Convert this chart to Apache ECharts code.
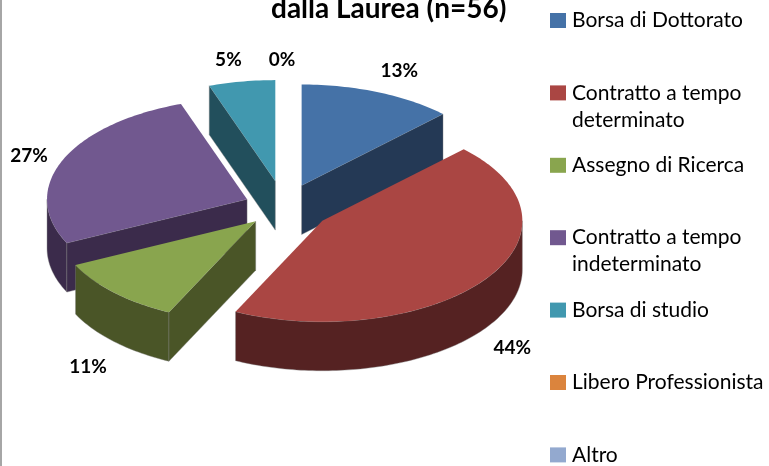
<!DOCTYPE html>
<html>
<head>
<meta charset="utf-8">
<style>html,body{margin:0;background:#fff}#chart{width:769px;height:466px}</style>
<script src="https://cdn.jsdelivr.net/npm/echarts@6/dist/echarts.min.js"></script>
</head>
<body>
<div id="chart"></div>
<script>
var categories = ['Borsa di Dottorato', 'Contratto a tempo determinato', 'Assegno di Ricerca',
    'Contratto a tempo indeterminato', 'Borsa di studio', 'Libero Professionista', 'Altro'];
var counts = [7, 25, 6, 15, 3, 0, 0];
var percentLabels = ['13%', '44%', '11%', '27%', '5%', '0%', ''];
var topColors = ['#4572A7', '#AA4643', '#89A54E', '#71588F', '#4198AF', '#DB843D', '#93A9CF'];
var wallColors = ['#243955', '#552222', '#4A5527', '#3B2B4B', '#224F5C', '#6E421E', '#4A5568'];

// pie geometry, angles run clockwise from 12 o'clock
var cx = 284, cy = 207, rx = 200, ry = 101, depth = 49;
var explode = [0.23, 0.235, 0.2, 0.2, 0.26, 0.2, 0.2];
var labelNudge = [[2, 2], [-14, 5], [9, 7], [13, 5], [-5, 3], [-2, -1], [0, 0]];
var drawOrder = [0, 4, 5, 6, 3, 2, 1];

var total = counts.reduce(function (a, b) { return a + b; }, 0);

function angleOf(i) {
    var sum = 0;
    for (var k = 0; k < i; k++) sum += counts[k];
    return sum / total * Math.PI * 2;
}
function arcPoints(ax, ay, from, to, dy) {
    var pts = [], n = Math.max(2, Math.ceil((to - from) / 0.02));
    for (var k = 0; k <= n; k++) {
        var t = from + (to - from) * k / n;
        pts.push([ax + Math.sin(t) * rx, ay - Math.cos(t) * ry + dy]);
    }
    return pts;
}
function wallStyle(i) {
    return { fill: wallColors[i], stroke: '#7d7d7d', lineWidth: 0.4 };
}

function sliceRenderer(i) {
    return function () {
        var a0 = angleOf(i), a1 = angleOf(i + 1), mid = (a0 + a1) / 2;
        var ax = cx + Math.sin(mid) * rx * explode[i];
        var ay = cy - Math.cos(mid) * ry * explode[i];
        var children = [];
        if (a1 > a0) {
            // outer wall, only the part facing the viewer
            var w0 = Math.max(a0, Math.PI / 2), w1 = Math.min(a1, Math.PI * 1.5);
            if (w1 > w0) {
                var wall = arcPoints(ax, ay, w0, w1, 0).concat(arcPoints(ax, ay, w0, w1, depth).reverse());
                children.push({ type: 'polygon', shape: { points: wall }, style: wallStyle(i) });
            }
            // the cut faces that can be seen
            [[a0, Math.sin(a0) < -0.001], [a1, Math.sin(a1) > 0.001]].forEach(function (f) {
                if (!f[1]) return;
                var ex = ax + Math.sin(f[0]) * rx, ey = ay - Math.cos(f[0]) * ry;
                children.push({
                    type: 'polygon',
                    shape: { points: [[ax, ay], [ex, ey], [ex, ey + depth], [ax, ay + depth]] },
                    style: wallStyle(i)
                });
            });
            var top = [[ax, ay]].concat(arcPoints(ax, ay, a0, a1, 0));
            children.push({ type: 'polygon', shape: { points: top }, style: { fill: topColors[i] } });
        }
        if (percentLabels[i]) {
            var front = Math.cos(mid) < 0 ? depth : 0;
            children.push({
                type: 'text',
                z2: 10,
                style: {
                    text: percentLabels[i],
                    x: ax + Math.sin(mid) * rx * 1.25 + labelNudge[i][0],
                    y: ay - Math.cos(mid) * ry * 1.25 + front + labelNudge[i][1],
                    align: 'center',
                    verticalAlign: 'middle',
                    fill: '#000',
                    font: 'bold 19px Lato'
                }
            });
        }
        return { type: 'group', children: children };
    };
}

var legendText = {
    'Contratto a tempo determinato': '\nContratto a tempo\ndeterminato',
    'Contratto a tempo indeterminato': '\nContratto a tempo\nindeterminato'
};

echarts.init(document.getElementById('chart')).setOption({
    animation: false,
    backgroundColor: '#fff',
    title: {
        text: 'dalla Laurea (n=56)',
        left: 271,
        top: -5,
        padding: 0,
        textStyle: { color: '#000', fontFamily: 'Lato', fontWeight: 'bold', fontSize: 28 }
    },
    legend: categories.map(function (name, i) {
        return {
            data: [name],
            orient: 'vertical',
            left: 550,
            top: 11.5 + i * 72.4 + (legendText[name] ? -33 : -6),
            padding: 0,
            icon: 'rect',
            itemWidth: 16,
            itemHeight: 15,
            itemGap: 0,
            selectedMode: false,
            formatter: function (n) { return legendText[n] || n; },
            textStyle: { color: '#000', fontFamily: 'Lato', fontSize: 21, lineHeight: 27, padding: [3, 0, 0, 1] }
        };
    }),
    graphic: [{
        type: 'rect',
        shape: { x: 0, y: 0, width: 2, height: 466 },
        style: { fill: '#a6a6a6' }
    }],
    series: categories.map(function (name, i) {
        return {
            type: 'custom',
            name: name,
            coordinateSystem: 'none',
            silent: true,
            z: 2 + drawOrder.indexOf(i),
            itemStyle: { color: topColors[i] },
            data: [[counts[i]]],
            renderItem: sliceRenderer(i)
        };
    })
});
</script>
</body>
</html>
